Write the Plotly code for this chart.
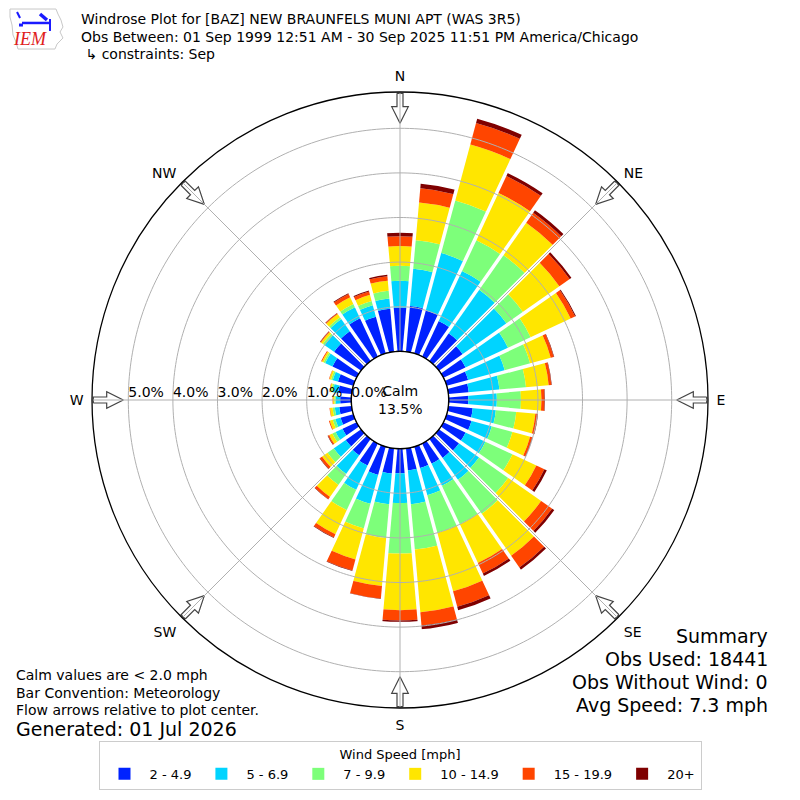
import numpy as np
import plotly.graph_objects as go

# wind directions (deg, meteorological) and speed bins
directions = list(range(0, 360, 10))
speed_bins = ["2 - 4.9", "5 - 6.9", "7 - 9.9", "10 - 14.9", "15 - 19.9", "20+"]
bin_colors = ["#0022ff", "#00d4ff", "#7dff7a", "#ffe600", "#ff4500", "#7f0000"]

# frequency (%) per direction for each speed bin
freq_2_5 = [0.98, 1.03, 1.00, 0.88, 0.76, 0.65, 0.55, 0.50, 0.46, 0.44, 0.55, 0.58,
            0.55, 0.55, 0.52, 0.50, 0.50, 0.50, 0.55, 0.57, 0.66, 0.55, 0.45, 0.42,
            0.35, 0.30, 0.28, 0.25, 0.30, 0.36, 0.60, 0.74, 0.82, 0.95, 0.85, 0.97]
freq_5_7 = [0.60, 0.84, 1.33, 1.24, 1.19, 1.20, 1.05, 0.85, 0.69, 0.64, 0.52, 0.47,
            0.49, 0.55, 0.60, 0.55, 0.63, 0.76, 0.67, 0.69, 0.67, 0.60, 0.51, 0.33,
            0.17, 0.12, 0.10, 0.10, 0.12, 0.12, 0.18, 0.26, 0.33, 0.27, 0.27, 0.23]
freq_7_10 = [0.34, 0.64, 1.22, 0.76, 0.95, 0.45, 0.56, 0.59, 0.60, 0.54, 0.46, 0.48,
             0.67, 0.80, 0.93, 0.95, 0.87, 1.02, 1.13, 0.76, 0.57, 0.50, 0.30, 0.17,
             0.08, 0.06, 0.05, 0.03, 0.04, 0.04, 0.04, 0.05, 0.05, 0.08, 0.10, 0.17]
freq_10_15 = [0.44, 0.85, 1.30, 1.17, 0.89, 1.00, 0.99, 0.48, 0.51, 0.46, 0.43, 0.41,
              0.59, 0.90, 1.15, 0.96, 1.36, 1.41, 1.27, 1.08, 0.72, 0.60, 0.33, 0.15,
              0.08, 0.07, 0.06, 0.03, 0.03, 0.04, 0.04, 0.05, 0.09, 0.17, 0.14, 0.23]
freq_15_20 = [0.22, 0.32, 0.50, 0.42, 0.27, 0.28, 0.11, 0.07, 0.06, 0.07, 0.05, 0.05,
              0.20, 0.30, 0.32, 0.26, 0.36, 0.30, 0.23, 0.28, 0.26, 0.08, 0.06, 0.06,
              0.03, 0.02, 0.01, 0.01, 0.01, 0.01, 0.02, 0.02, 0.02, 0.08, 0.08, 0.10]
freq_20 = [0.08, 0.10, 0.10, 0.07, 0.07, 0.05, 0.02, 0.01, 0.01, 0.01, 0.01, 0.01,
           0.06, 0.06, 0.06, 0.06, 0.08, 0.08, 0.03, 0.01, 0.01, 0.01, 0.01, 0.01,
           0.01, 0.00, 0.00, 0.00, 0.00, 0.00, 0.00, 0.01, 0.01, 0.02, 0.02, 0.03]
freqs = [freq_2_5, freq_5_7, freq_7_10, freq_10_15, freq_15_20, freq_20]

radial_ticks = [0, 1, 2, 3, 4, 5]
compass_angles = [0, 45, 90, 135, 180, 225, 270, 315]
compass_labels = ["N", "NE", "E", "SE", "S", "SW", "W", "NW"]
calm_pct = 13.5

title_lines = ["Windrose Plot for [BAZ] NEW BRAUNFELS MUNI APT (WAS 3R5)",
               "Obs Between: 01 Sep 1999 12:51 AM - 30 Sep 2025 11:51 PM America/Chicago",
               " \u21b3 constraints: Sep"]
summary_lines = ["Summary", "Obs Used: 18441", "Obs Without Wind: 0", "Avg Speed: 7.3 mph"]
note_lines = ["Calm values are < 2.0 mph", "Bar Convention: Meteorology",
              "Flow arrows relative to plot center."]
generated = "Generated: 01 Jul 2026"

FONT = "DejaVu Sans"
GRID = "#b0b0b0"

# the page puts the figure 8px in from the top-left corner
OFF = 8
FW = 800 - OFF


def fx(p):
    return (p - OFF) / FW


def fy(p):
    return 1 - (p - OFF) / FW


# geometry of the polar area (page pixels)
CX, CY = 400, 400
R_PX = 308.0
HOLE_PX = 48.7
PX_PER_PCT = 44.6
R_MAX = (R_PX - HOLE_PX) / PX_PER_PCT

fig = go.Figure()

# stacked bars
for name, vals, col in zip(speed_bins, freqs, bin_colors):
    fig.add_trace(go.Barpolar(
        r=vals, theta=directions, width=10, name=name,
        marker=dict(color=col, line=dict(width=0)),
    ))

# white gaps between the direction bars
gap_r, gap_t = [], []
for d in directions:
    gap_r += [0, R_MAX, None]
    gap_t += [d + 5, d + 5, None]
fig.add_trace(go.Scatterpolar(r=gap_r, theta=gap_t, mode="lines",
                              line=dict(color="white", width=3.5),
                              showlegend=False, hoverinfo="skip"))

# grid circles over the bars
circ_t = list(np.arange(0, 361, 1.0))
cr, ct = [], []
for v in radial_ticks[1:]:
    cr += [v] * len(circ_t) + [None]
    ct += circ_t + [None]
fig.add_trace(go.Scatterpolar(r=cr, theta=ct, mode="lines",
                              line=dict(color=GRID, width=1),
                              showlegend=False, hoverinfo="skip"))


# hollow flow arrows at the compass points
def to_polar(a, b, th):
    t = np.radians(th)
    x = a * np.sin(t) + b * np.cos(t)
    y = a * np.cos(t) - b * np.sin(t)
    rp = np.hypot(x, y)
    return (rp - HOLE_PX) / PX_PER_PCT, np.degrees(np.arctan2(x, y)) % 360


arrow_shape = [(306.7, -3), (293.3, -3), (293.3, -8.3), (276.7, 0),
               (293.3, 8.3), (293.3, 3), (306.7, 3), (306.7, -3)]
for ang in compass_angles:
    ar, at = [], []
    for a, b in arrow_shape:
        rr, tt = to_polar(a, b, ang)
        ar.append(rr)
        at.append(tt)
    fig.add_trace(go.Scatterpolar(r=ar, theta=at, mode="lines", fill="toself",
                                  fillcolor="white", line=dict(color="#444444", width=1.2),
                                  showlegend=False, hoverinfo="skip", cliponaxis=False))

# radial spokes
sr, st = [], []
for ang in compass_angles:
    sr += [0, R_MAX, None]
    st += [ang, ang, None]
fig.add_trace(go.Scatterpolar(r=sr, theta=st, mode="lines",
                              line=dict(color=GRID, width=1),
                              showlegend=False, hoverinfo="skip"))

# edge of the calm circle
fig.add_trace(go.Scatterpolar(r=[0] * len(circ_t), theta=circ_t, mode="lines",
                              line=dict(color="black", width=1.2),
                              showlegend=False, hoverinfo="skip", cliponaxis=False))

# radial tick labels along the west spoke
fig.add_trace(go.Scatterpolar(r=radial_ticks, theta=[270] * len(radial_ticks), mode="text",
                              text=["%.1f%%" % v for v in radial_ticks],
                              textposition="top right",
                              textfont=dict(family=FONT, size=14, color="black"),
                              showlegend=False, hoverinfo="skip", cliponaxis=False))

fig.update_layout(
    width=FW, height=FW,
    margin=dict(l=0, r=0, t=0, b=0),
    paper_bgcolor="white",
    font=dict(family=FONT, size=14, color="black"),
    polar=dict(
        domain=dict(x=[fx(CX - R_PX), fx(CX + R_PX)], y=[fy(CY + R_PX), fy(CY - R_PX)]),
        hole=HOLE_PX / R_PX,
        bgcolor="white",
        barmode="stack",
        radialaxis=dict(range=[0, R_MAX], showgrid=False, showticklabels=False,
                        showline=False, ticks=""),
        angularaxis=dict(rotation=90, direction="clockwise", showgrid=False,
                         showline=True, linecolor="black", linewidth=1.3,
                         ticks="outside", ticklen=5, tickcolor="rgba(0,0,0,0)",
                         tickmode="array", tickvals=compass_angles, ticktext=compass_labels,
                         tickfont=dict(family=FONT, size=14, color="black")),
    ),
    legend=dict(
        orientation="h", x=fx(400), xanchor="center", y=fy(790), yanchor="bottom",
        title=dict(text="Wind Speed [mph]", side="top center",
                   font=dict(family=FONT, size=13)),
        font=dict(family=FONT, size=13), bordercolor="#cccccc", borderwidth=1,
        bgcolor="white", traceorder="normal", itemwidth=40,
    ),
)

ann = []
for i, t in enumerate(title_lines):
    ann.append(dict(text=t, x=fx(79), y=fy(19 + 17.5 * i), xref="paper", yref="paper",
                    xanchor="left", yanchor="middle", showarrow=False,
                    font=dict(family=FONT, size=14)))
for i, t in enumerate(summary_lines):
    ann.append(dict(text=t, x=fx(770), y=fy(636 + 23 * i), xref="paper", yref="paper",
                    xanchor="right", yanchor="middle", showarrow=False,
                    font=dict(family=FONT, size=19)))
for i, t in enumerate(note_lines):
    ann.append(dict(text=t, x=fx(14), y=fy(675 + 17.5 * i), xref="paper", yref="paper",
                    xanchor="left", yanchor="middle", showarrow=False,
                    font=dict(family=FONT, size=14)))
ann.append(dict(text=generated, x=fx(14), y=fy(729), xref="paper", yref="paper",
                xanchor="left", yanchor="middle", showarrow=False,
                font=dict(family=FONT, size=19)))
ann.append(dict(text="Calm<br>%.1f%%" % calm_pct, x=fx(CX), y=fy(CY), xref="paper", yref="paper",
                xanchor="center", yanchor="middle", showarrow=False,
                font=dict(family=FONT, size=14)))
# IEM logo text
ann.append(dict(text="<i>IEM</i>", x=fx(30), y=fy(39), xref="paper", yref="paper",
                xanchor="center", yanchor="middle", showarrow=False,
                font=dict(family="Liberation Serif", size=18, color="#e0201b")))
fig.update_layout(annotations=ann)


def px_path(points, close=True):
    s = "M " + " L ".join("%.4f,%.4f" % (fx(x), fy(y)) for x, y in points)
    return s + (" Z" if close else "")


iowa = [(10, 9), (56, 9), (58, 14), (61, 20), (63, 27), (60, 32), (63, 38), (57, 44),
        (55, 49), (18, 49), (16, 42), (13, 35), (12, 25), (10, 17)]
shapes = [dict(type="path", xref="paper", yref="paper", path=px_path(iowa),
               line=dict(color="#c8c8c8", width=1))]
for seg, w in [([(22, 23), (50, 23)], 2.5), ([(40, 14), (47, 20)], 3.5),
               ([(50, 19), (50, 31)], 2), ([(17, 12), (20, 18)], 2), ([(19, 25), (23, 25)], 3)]:
    shapes.append(dict(type="path", xref="paper", yref="paper", path=px_path(seg, False),
                       line=dict(color="#1a1aff", width=w)))
fig.update_layout(shapes=shapes)

fig.write_html("out.html")
